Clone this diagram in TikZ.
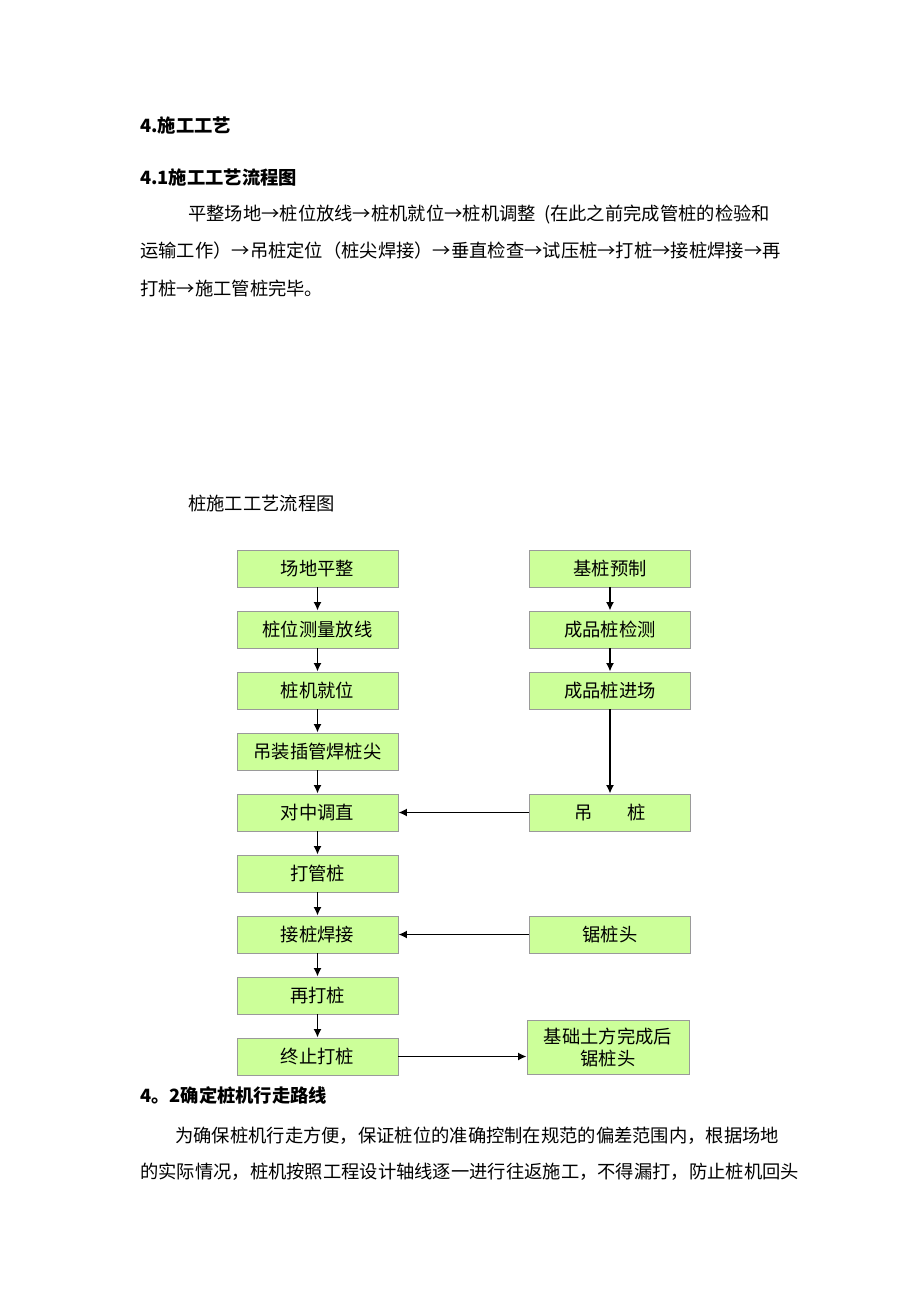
\documentclass[tikz,border=0pt]{standalone}
\usepackage{fontspec}
\setmainfont{Noto Sans CJK SC}
\usetikzlibrary{arrows.meta}
\definecolor{boxgreen}{HTML}{CCFF99}
\definecolor{boxline}{HTML}{9A9A9A}

\begin{document}
\begin{tikzpicture}
  [x=1pt,y=-1pt,every node/.style={font=\fontsize{18.3}{22}\selectfont},
   stepbox/.style={rectangle,fill=boxgreen,draw=boxline,line width=0.9pt,
     minimum width=161pt,minimum height=37pt,inner sep=0pt},
   txt/.style={anchor=west,inner sep=0pt},
   head/.style={txt,font=\fontsize{18.3}{22}\selectfont\bfseries},
   flow/.style={line width=1.6pt,-{Latex[length=8.5pt,width=8pt]}}]
\useasboundingbox (0,0) rectangle (920,1302);

% text above the chart
\node (h4)[head] at (140,125) {4.施工工艺};
\node (h41)[head] at (140,178) {4.1施工工艺流程图};
\node (p1)[txt] at (188,215) {平整场地→桩位放线→桩机就位→桩机调整\hspace{0.45em}(在此之前完成管桩的检验和};
\node (p2)[txt] at (140,251) {运输工作）→吊桩定位（桩尖焊接）→垂直检查→试压桩→打桩→接桩焊接→再};
\node (p3)[txt] at (140,288) {打桩→施工管桩完毕。};
\node (title)[txt] at (188,504) {桩施工工艺流程图};

% left column
\node (l1)[stepbox] at (317.5,568.5) {场地平整};
\node (l2)[stepbox] at (317.5,629.5) {桩位测量放线};
\node (l3)[stepbox] at (317.5,690.5) {桩机就位};
\node (l4)[stepbox] at (317.5,751.5) {吊装插管焊桩尖};
\node (l5)[stepbox] at (317.5,812.5) {对中调直};
\node (l6)[stepbox] at (317.5,873.5) {打管桩};
\node (l7)[stepbox] at (317.5,934.5) {接桩焊接};
\node (l8)[stepbox] at (317.5,995.5) {再打桩};
\node (l9)[stepbox] at (317.5,1056.5) {终止打桩};

% right column
\node (r1)[stepbox] at (610,568.5) {基桩预制};
\node (r2)[stepbox] at (610,629.5) {成品桩检测};
\node (r3)[stepbox] at (610,690.5) {成品桩进场};
\node (r4)[stepbox] at (610,812.5) {吊\hspace{1.9em}桩};
\node (r5)[stepbox] at (610,934.5) {锯桩头};
\node (r6)[stepbox,minimum width=162pt,minimum height=54pt,align=center]
  at (608,1047) {基础土方完成后\\锯桩头};

\foreach \from/\to in {l1/l2,l2/l3,l3/l4,l4/l5,l5/l6,l6/l7,l7/l8,l8/l9,r1/r2,r2/r3,r3/r4,r4/l5,r5/l7}
  \draw[flow] (\from) -- (\to);
\draw[flow] (l9) -- (l9 -| r6.west);

% text below the chart
\node (h42)[head] at (140,1095) {4。2确定桩机行走路线};
\node (q1)[txt] at (175,1136) {为确保桩机行走方便，保证桩位的准确控制在规范的偏差范围内，根据场地};
\node (q2)[txt] at (140,1172) {的实际情况，桩机按照工程设计轴线逐一进行往返施工，不得漏打，防止桩机回头};
\end{tikzpicture}
\end{document}
